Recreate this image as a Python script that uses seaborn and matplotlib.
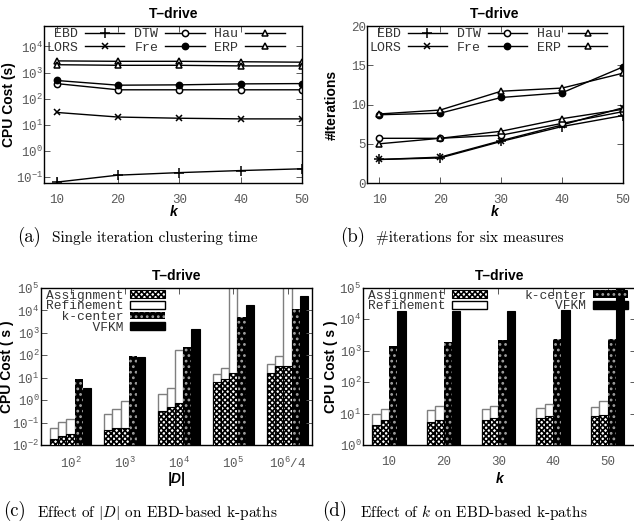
import numpy as np
import pandas as pd
import matplotlib
matplotlib.use('Agg')
import matplotlib.pyplot as plt
from matplotlib.patches import Patch
import seaborn as sns

# ---- data ----
ks = [10, 20, 30, 40, 50]
measures = ['EBD', 'LORS', 'DTW', 'Fre', 'Hau', 'ERP']
legend_names = [' EBD', 'LORS', 'DTW', 'Fre', 'Hau', 'ERP']

# (a) single iteration CPU cost (s)
cpu_ebd = [0.065, 0.12, 0.15, 0.18, 0.21]
cpu_lors = [30, 20, 18, 17, 17]
cpu_dtw = [380, 220, 220, 220, 220]
cpu_fre = [500, 330, 340, 370, 380]
cpu_hau = [2800, 2700, 2700, 2600, 2500]
cpu_erp = [2000, 1900, 1900, 1800, 1800]

# (b) number of iterations
it_ebd = [3.0, 3.2, 5.3, 7.2, 8.6]
it_lors = [3.0, 3.3, 5.4, 7.4, 9.6]
it_dtw = [5.7, 5.7, 6.1, 7.6, 9.1]
it_fre = [8.7, 8.9, 10.9, 11.5, 14.8]
it_hau = [5.0, 5.7, 6.6, 8.2, 9.4]
it_erp = [8.8, 9.3, 11.7, 12.1, 14.0]

# (c) effect of |D|
d_groups = ['$\\mathdefault{10^{2}}$', '$\\mathdefault{10^{3}}$', '$\\mathdefault{10^{4}}$',
            '$\\mathdefault{10^{5}}$', '$\\mathdefault{10^{6}/4}$']
c_assign1 = [0.018, 0.047, 0.33, 6.3, 17]
c_total1 = [0.06, 0.25, 1.9, 14.5, 42]
c_assign2 = [0.024, 0.056, 0.52, 8.7, 32]
c_total2 = [0.11, 0.39, 3.4, 27, 89]
c_assign3 = [0.031, 0.06, 0.72, 17, 35]
c_total3 = [0.14, 0.87, 166, 3e5, 3e5]
c_kcenter = [8.7, 95, 235, 4900, 11000]
c_vfkm = [3.6, 80, 1550, 18000, 42000]

# (d) effect of k
k_groups = ['10', '20', '30', '40', '50']
k_assign1 = [4.2, 5.6, 6.3, 7.1, 8.1]
k_total1 = [9.8, 13.3, 14, 15, 16]
k_assign2 = [6.3, 6.3, 7.5, 8.1, 9.1]
k_total2 = [14, 17, 18, 19.6, 26]
k_kcenter = [1420, 1960, 2200, 2330, 2400]
k_vfkm = [18800, 19000, 19000, 20500, 3e5]

# ---- fonts ----
plt.rcParams['font.family'] = ['Liberation Mono', 'DejaVu Sans Mono']
plt.rcParams['mathtext.fontset'] = 'custom'
plt.rcParams['mathtext.rm'] = 'Liberation Mono'
plt.rcParams['mathtext.it'] = 'Liberation Mono:italic'
plt.rcParams['mathtext.bf'] = 'Liberation Mono:bold'
plt.rcParams['hatch.linewidth'] = 1.2

TICK_GRAY = '#5a5a5a'
label_font = dict(family='Liberation Sans', weight='bold', size=10)
xlabel_font = dict(family='Liberation Sans', weight='bold', style='italic', size=10)


def style_axes(ax):
    ax.tick_params(direction='in', top=True, right=True, length=4, width=0.7,
                   colors=TICK_GRAY, labelsize=9)
    ax.tick_params(axis='x', pad=8)
    ax.tick_params(axis='y', pad=1)
    ax.tick_params(which='minor', length=0)
    for s in ax.spines.values():
        s.set_color('black')
        s.set_linewidth(1)
    ax.set_title('T\u2013drive', family='Liberation Sans', weight='bold', size=10, pad=6)


def log_ticks(ax, lo, hi):
    exps = list(range(lo, hi + 1))
    ax.set_yticks([10.0 ** e for e in exps])
    ax.set_yticklabels(['$\\mathdefault{10^{%d}}$' % e for e in exps])
    ax.yaxis.set_minor_locator(matplotlib.ticker.NullLocator())


markers = {
    'EBD': dict(marker='+', markersize=7, markerfacecolor='black'),
    'LORS': dict(marker='x', markersize=5, markerfacecolor='black'),
    'DTW': dict(marker='o', markersize=4.5, markerfacecolor='white'),
    'Fre': dict(marker='o', markersize=4.5, markerfacecolor='black'),
    'Hau': dict(marker='^', markersize=5, markerfacecolor='white'),
    'ERP': dict(marker='^', markersize=5, markerfacecolor='white'),
}


def line_panel(ax, series):
    for name, lab, vals in zip(measures, legend_names, series):
        sns.lineplot(x=ks, y=vals, ax=ax, color='black', linewidth=1,
                     markeredgecolor='black', markeredgewidth=1.1,
                     label=lab, **markers[name])
    ax.set_xlim(8, 50)
    ax.set_xticks(ks)
    ax.legend(loc='upper left', bbox_to_anchor=(0.0, 1.0), ncol=3, frameon=False,
              markerfirst=False, handlelength=3.0, handletextpad=0.5,
              columnspacing=0.75, labelspacing=0.1, borderpad=0.15,
              borderaxespad=0, fontsize=9.5, labelcolor='#333333')


def bar_panel(ax, groups, slots, totals, assigns, width):
    frames = []
    for slot, vals in zip(slots, totals):
        frames.append(pd.DataFrame({'group': groups, 'slot': slot, 'value': vals}))
    df = pd.concat(frames, ignore_index=True)
    sns.barplot(data=df, x='group', y='value', hue='slot', order=groups, hue_order=slots,
                dodge=True, width=width, gap=0, errorbar=None, legend=False, ax=ax,
                palette=['white'] * len(slots))
    ax.set_yscale('log')
    for cont, slot in zip(ax.containers, slots):
        for p in cont:
            if slot == 'kc':
                p.set_facecolor('black'); p.set_edgecolor('#a0a0a0')
                p.set_hatch('...'); p.set_linewidth(0)
            elif slot == 'vfkm':
                p.set_facecolor('black'); p.set_edgecolor('black'); p.set_linewidth(0.8)
            else:
                p.set_facecolor('white'); p.set_edgecolor('#7f7f7f'); p.set_linewidth(1)
    # assignment part of the stacked bars
    for cont, vals in zip(ax.containers, assigns):
        xs = [p.get_x() for p in cont]
        ws = [p.get_width() for p in cont]
        ax.bar(xs, vals, width=ws, align='edge', facecolor='white', edgecolor='black',
               hatch='xxxxxx', linewidth=0.8, zorder=3)
    ax.set_xlabel('')


def bar_handles():
    return {
        'Assignment': Patch(facecolor='white', edgecolor='black', hatch='xxxxxx', linewidth=0.8),
        'Refinement': Patch(facecolor='white', edgecolor='black', linewidth=1),
        'k-center': Patch(facecolor='black', edgecolor='#a0a0a0', hatch='...', linewidth=0),
        'VFKM': Patch(facecolor='black', edgecolor='black'),
    }


fig = plt.figure(figsize=(6.34, 5.29), dpi=100)

# (a)
ax_a = fig.add_axes([0.0699, 0.654, 0.4064, 0.2967])
line_panel(ax_a, [cpu_ebd, cpu_lors, cpu_dtw, cpu_fre, cpu_hau, cpu_erp])
ax_a.set_yscale('log')
ax_a.set_ylim(0.06, 6e4)
log_ticks(ax_a, -1, 4)
style_axes(ax_a)
ax_a.set_xlabel('k', fontdict=xlabel_font)
ax_a.set_ylabel('CPU Cost (s)', fontdict=label_font)
ax_a.xaxis.set_label_coords(0.5, -0.14)
ax_a.yaxis.set_label_coords(-0.11, 0.5)

# (b)
ax_b = fig.add_axes([0.5789, 0.654, 0.4038, 0.2967])
line_panel(ax_b, [it_ebd, it_lors, it_dtw, it_fre, it_hau, it_erp])
ax_b.set_ylim(0, 20)
ax_b.set_yticks([0, 5, 10, 15, 20])
style_axes(ax_b)
ax_b.set_xlabel('k', fontdict=xlabel_font)
ax_b.set_ylabel('#Iterations', fontdict=label_font)
ax_b.xaxis.set_label_coords(0.5, -0.14)
ax_b.yaxis.set_label_coords(-0.11, 0.5)

# (c)
ax_c = fig.add_axes([0.0642, 0.1588, 0.4279, 0.2968])
bar_panel(ax_c, d_groups, ['a1', 'a2', 'a3', 'kc', 'vfkm'],
          [c_total1, c_total2, c_total3, c_kcenter, c_vfkm],
          [c_assign1, c_assign2, c_assign3], 0.76)
ax_c.set_ylim(1e-2, 1e5)
ax_c.set_xlim(-0.55, 4.45)
log_ticks(ax_c, -2, 5)
style_axes(ax_c)
ax_c.set_xlabel('|D|', fontdict=xlabel_font)
ax_c.set_ylabel('CPU Cost ( s )', fontdict=label_font)
ax_c.xaxis.set_label_coords(0.5, -0.17)
ax_c.yaxis.set_label_coords(-0.1, 0.5)
h = bar_handles()
ax_c.legend([h['Assignment'], h['Refinement'], h['k-center'], h['VFKM']],
            ['Assignment', 'Refinement', '  k-center', '      VFKM'],
            loc='upper left', bbox_to_anchor=(0.02, 0.99), frameon=False, markerfirst=False,
            handlelength=2.7, handleheight=0.55, handletextpad=0.5, labelspacing=-0.1,
            borderpad=0, borderaxespad=0, fontsize=9.3, labelcolor='#333333')

# (d)
ax_d = fig.add_axes([0.5721, 0.1588, 0.4311, 0.2968])
bar_panel(ax_d, k_groups, ['a1', 'a2', 'kc', 'vfkm'],
          [k_total1, k_total2, k_kcenter, k_vfkm],
          [k_assign1, k_assign2], 0.61)
ax_d.set_ylim(1, 1e5)
ax_d.set_xlim(-0.48, 4.52)
log_ticks(ax_d, 0, 5)
style_axes(ax_d)
ax_d.set_xlabel('k', fontdict=xlabel_font)
ax_d.set_ylabel('CPU Cost ( s )', fontdict=label_font)
ax_d.xaxis.set_label_coords(0.5, -0.17)
ax_d.yaxis.set_label_coords(-0.09, 0.5)
ax_d.legend([h['Assignment'], h['Refinement'], h['k-center'], h['VFKM']],
            ['Assignment', 'Refinement', 'k-center', '    VFKM'], ncol=2,
            loc='upper left', bbox_to_anchor=(0.02, 0.99), frameon=False, markerfirst=False,
            handlelength=2.7, handleheight=0.55, handletextpad=0.5, labelspacing=-0.1,
            columnspacing=2.9, borderpad=0, borderaxespad=0, fontsize=9.3,
            labelcolor='#333333')

# captions (Computer Modern, as in the LaTeX subfigure captions)
cap = dict(family='cmr10', va='center', ha='left', math_fontfamily='cm')
fig.text(17 / 634, 1 - 237 / 529, '(a)', size=13.5, **cap)
fig.text(52 / 634, 1 - 238 / 529, 'Single iteration clustering time', size=11, **cap)
fig.text(340 / 634, 1 - 237 / 529, '(b)', size=13.5, **cap)
fig.text(376 / 634, 1 - 238 / 529, '#iterations for six measures', size=11, **cap)
fig.text(3 / 634, 1 - 511 / 529, '(c)', size=13.5, **cap)
fig.text(37 / 634, 1 - 512 / 529, 'Effect of $|D|$ on EBD-based k-paths', size=11, **cap)
fig.text(322 / 634, 1 - 511 / 529, '(d)', size=13.5, **cap)
fig.text(360 / 634, 1 - 512 / 529, 'Effect of $k$ on EBD-based k-paths', size=11, **cap)

fig.savefig('out.png', dpi=100)
